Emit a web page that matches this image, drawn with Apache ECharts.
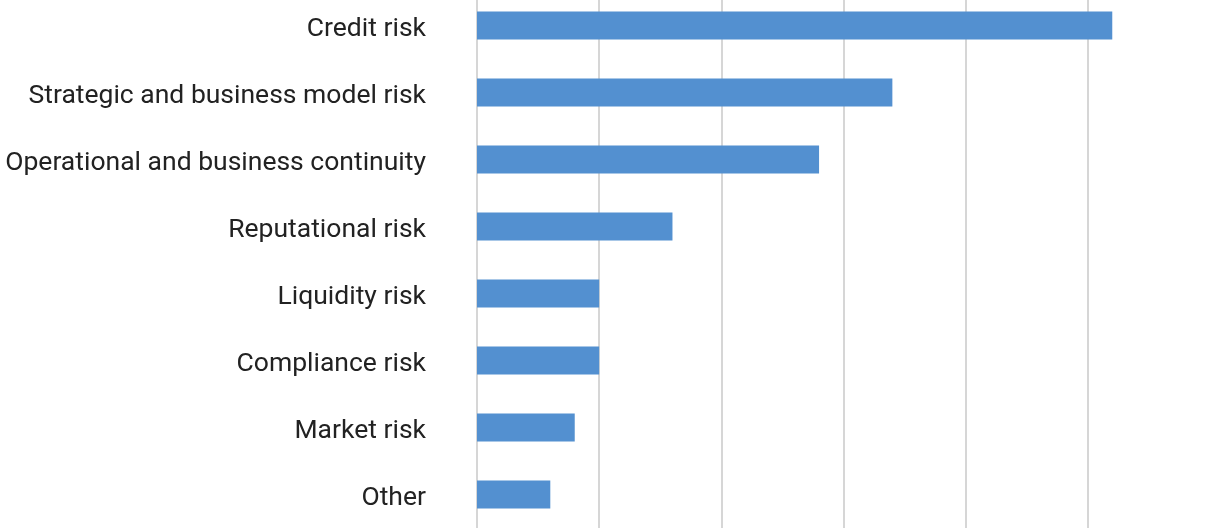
<!DOCTYPE html>
<html>
<head>
<meta charset="utf-8">
<script src="https://cdn.jsdelivr.net/npm/echarts@6/dist/echarts.min.js"></script>
<style>
html,body{margin:0;padding:0;background:#fff;overflow:hidden;}
#chart{position:absolute;left:0;top:-8px;width:1214px;height:545px;}
</style>
</head>
<body>
<div id="chart"></div>
<script>
const categories = ["Credit risk","Strategic and business model risk","Operational and business continuity","Reputational risk","Liquidity risk","Compliance risk","Market risk","Other"];
const values = [26, 17, 14, 8, 5, 5, 4, 3];

const chart = echarts.init(document.getElementById('chart'));
chart.setOption({
  animation: false,
  grid: {left: 477, right: 4, top: 0, bottom: 9, containLabel: false},
  xAxis: {
    type: 'value', min: 0, max: 30, interval: 5,
    axisLabel: {show: false},
    axisLine: {show: false},
    axisTick: {show: false},
    splitLine: {show: true, showMaxLine: false, lineStyle: {color: '#d6d6d6', width: 2}}
  },
  yAxis: {
    type: 'category', data: categories, inverse: true,
    axisLine: {show: false},
    axisTick: {show: false},
    axisLabel: {
      margin: 51,
      formatter: function (v) { return '{a|' + v + '}'; },
      rich: {a: {fontFamily: 'Roboto', fontSize: 26.5, color: '#222', padding: [7, 0, 0, 0]}}
    }
  },
  series: [{
    type: 'bar', data: values, barWidth: 28,
    itemStyle: {color: '#5390d0'}
  }]
});
</script>
</body>
</html>
